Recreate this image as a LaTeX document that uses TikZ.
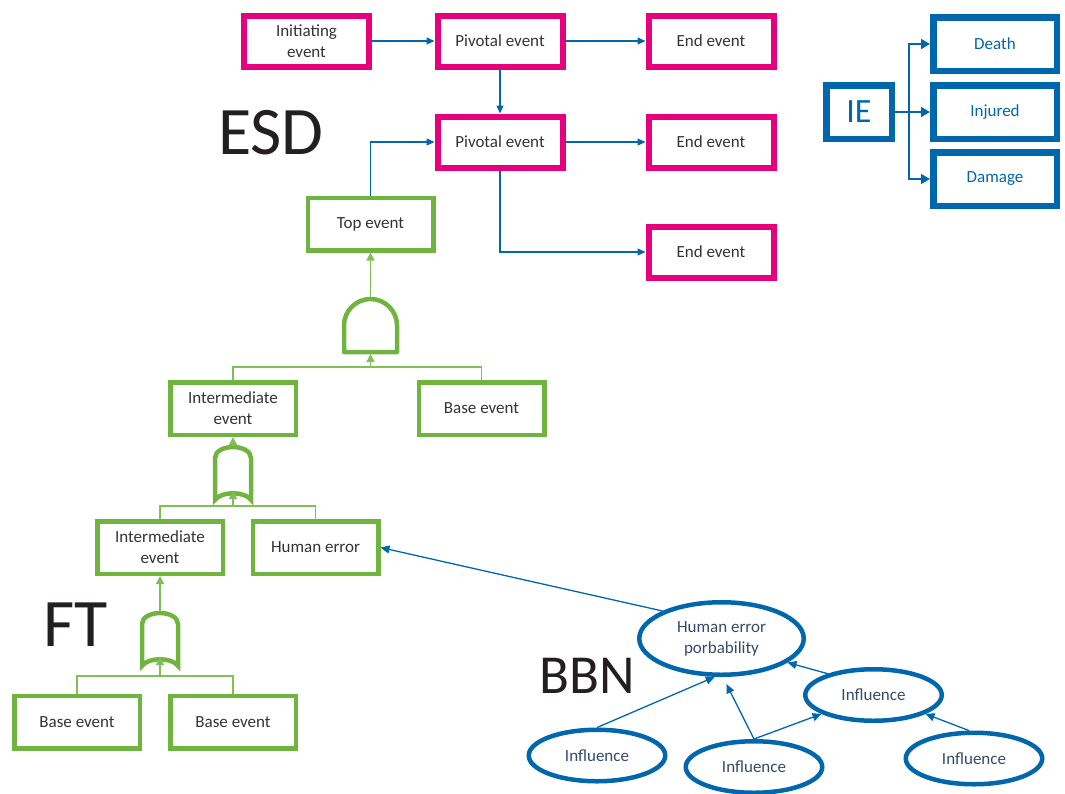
\documentclass[tikz,border=0pt]{standalone}
\usepackage{fontspec}
\setmainfont{Carlito}
\usetikzlibrary{arrows.meta,shapes.geometric}

\definecolor{esdpink}{RGB}{229,0,125}
\definecolor{ftgreen}{RGB}{112,180,64}
\definecolor{ftlinecol}{RGB}{128,190,86}
\definecolor{bbnblue}{RGB}{0,103,172}
\definecolor{txtgrey}{RGB}{51,51,51}
\definecolor{bbntxt}{RGB}{52,74,106}

\tikzset{
  boxtxt/.style={align=center, inner sep=1pt, text=txtgrey, font=\fontsize{17}{21}\selectfont},
  esdbox/.style={boxtxt, draw=esdpink, line width=6pt, minimum width=125pt, minimum height=51pt},
  ftbox/.style={boxtxt, draw=ftgreen, line width=4.5pt, minimum width=125.5pt, minimum height=52.5pt},
  iebox/.style={boxtxt, draw=bbnblue, text=bbnblue, line width=6.5pt, minimum width=123.5pt, minimum height=53.5pt},
  bbnnode/.style={ellipse, draw=bbnblue, line width=4.5pt, minimum width=136.5pt, minimum height=51.5pt,
    inner sep=0pt, align=center, text=bbntxt, font=\fontsize{17}{21}\selectfont},
  bigtxt/.style={inner sep=0pt, anchor=base, text={rgb,255:red,35;green,31;blue,32}, font=\fontsize{68}{68}\selectfont},
  esdarrow/.style={draw=bbnblue, line width=1.4pt, -{Triangle[length=8pt,width=7pt]}},
  iearrow/.style={draw=bbnblue, line width=1.6pt, -{Triangle[length=9pt,width=10pt]}},
  bbnarrow/.style={draw=bbnblue, line width=1.3pt, -{Triangle[length=9pt,width=8pt]}},
  ftarrow/.style={draw=ftlinecol, line width=1.4pt, -{Triangle[length=8pt,width=8pt]}},
  ftbar/.style={draw=ftlinecol, line width=1.4pt},
  gateline/.style={draw=ftgreen, line width=4.5pt},
  andgate/.pic={
    \draw[gateline, line join=round] (-26.5,53) -- (-26.5,26.5) .. controls (-26.5,11.9) and (-14.6,0) .. (0,0)
      .. controls (14.6,0) and (26.5,11.9) .. (26.5,26.5) -- (26.5,53) -- cycle;
    \coordinate (-top) at (0,-2);
    \coordinate (-bot) at (0,55);
  },
  orgate/.pic={
    \draw[gateline] (-18,53) -- (-18,11) .. controls (-18,4) and (-9,0) .. (0,0)
      .. controls (9,0) and (18,4) .. (18,11) -- (18,53) .. controls (12,44) and (-12,44) .. (-18,53) -- cycle;
    \coordinate (-top) at (0,-2);
    \coordinate (-bot) at (0,44);
  }
}

\begin{document}
\begin{tikzpicture}[x=1pt,y=-1pt]
\useasboundingbox (0,0) rectangle (1065,793);

% ESD
\node[esdbox] (init) at (306.5,41) {Initiating\\event};
\node[esdbox] (piv1) at (500,41) {Pivotal event};
\node[esdbox] (end1) at (711,41) {End event};
\node[esdbox] (piv2) at (500,142) {Pivotal event};
\node[esdbox] (end2) at (711,142) {End event};
\node[esdbox] (end3) at (711,252) {End event};
\node[bigtxt] (esdlbl) at (271,154) {ESD};

\draw[esdarrow] (init) -- (piv1);
\draw[esdarrow] (piv1) -- (end1);
\draw[esdarrow] (piv1) -- (piv2);
\draw[esdarrow] (piv2) -- (end2);
\draw[esdarrow] (piv2.south) |- (end3.west);

% IE
\node[iebox, minimum width=65.5pt, font=\fontsize{34}{34}\selectfont] (ie) at (859,112) {IE};
\node[iebox] (death) at (995,44) {Death};
\node[iebox] (injured) at (995,112) {Injured};
\node[iebox] (damage) at (995,179) {Damage};
\coordinate (iesplit) at (909,112);

\draw[iearrow] (ie) -- (injured);
\draw[iearrow] (iesplit) |- (death);
\draw[iearrow] (iesplit) |- (damage);

% FT
\node[ftbox] (topev) at (370.5,224) {Top event};
\pic (and1) at (370.5,299) {andgate};
\node[ftbox] (inter1) at (233,408.5) {Intermediate\\event};
\node[ftbox] (base1) at (481.5,408.5) {Base event};
\coordinate (bar1) at (370.5,367);
\pic (or1) at (233,447) {orgate};
\node[ftbox] (inter2) at (160,547.5) {Intermediate\\event};
\node[ftbox] (humerr) at (315.5,547.5) {Human error};
\coordinate (bar2) at (233,506);
\pic (or2) at (160,613) {orgate};
\node[ftbox] (base2) at (77,722) {Base event};
\node[ftbox] (base3) at (233,722) {Base event};
\coordinate (bar3) at (160,676);
\node[bigtxt] (ftlbl) at (75.5,646) {FT};

\draw[esdarrow] (topev.north) |- (piv2.west);
\draw[ftarrow] (and1-top) -- (topev.south);
\draw[ftbar] (inter1.north) |- (bar1) -| (base1.north);
\draw[ftarrow] (bar1) -- (and1-bot);
\draw[ftarrow] (or1-top) -- (inter1.south);
\draw[ftbar] (inter2.north) |- (bar2) -| (humerr.north);
\draw[ftarrow] (bar2) -- (or1-bot);
\draw[ftarrow] (or2-top) -- (inter2.south);
\draw[ftbar] (base2.north) |- (bar3) -| (base3.north);
\draw[ftarrow] (bar3) -- (or2-bot);

% BBN
\node[bbnnode, minimum width=164.5pt, minimum height=72.5pt] (hep) at (721.5,638.5) {Human error\\porbability};
\node[bbnnode] (infl1) at (597,755.5) {Influence};
\node[bbnnode] (infl2) at (754,767) {Influence};
\node[bbnnode] (infl3) at (873.5,695) {Influence};
\node[bbnnode] (infl4) at (974,758.5) {Influence};
\node[bigtxt, font=\fontsize{55}{55}\selectfont] (bbnlbl) at (587.5,693) {BBN};

\draw[bbnarrow] (hep.155) -- (humerr.east);
\draw[bbnarrow] (infl1.north) -- (hep.260);
\draw[bbnarrow, shorten >=8pt] (infl2.north) -- (hep.272);
\draw[bbnarrow] (infl2.north) -- (infl3.200);
\draw[bbnarrow] (infl3.155) -- (hep.-20);
\draw[bbnarrow] (infl4.100) -- (infl3.-20);

\end{tikzpicture}
\end{document}
